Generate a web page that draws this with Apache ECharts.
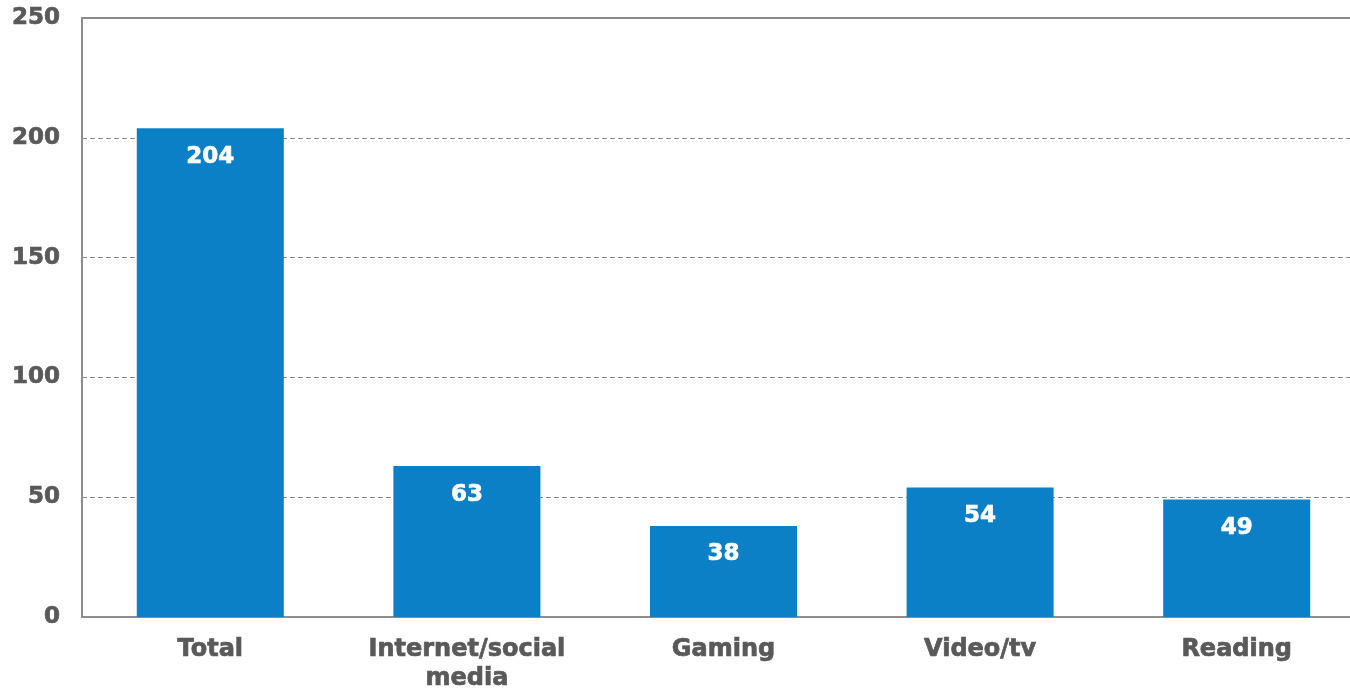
<!DOCTYPE html>
<html>
<head>
<meta charset="utf-8">
<style>
  html, body { margin: 0; padding: 0; background: #ffffff; overflow: hidden; }
  #chart { width: 1350px; height: 688px; }
</style>
<script src="https://cdn.jsdelivr.net/npm/echarts@6/dist/echarts.min.js"></script>
</head>
<body>
<div id="chart"></div>
<script>
// Categories and values shown as bars
const categories = ['Total', 'Internet/social\nmedia', 'Gaming', 'Video/tv', 'Reading'];
const values = [204, 63, 38, 54, 49];
// Value axis range and step
const yMin = 0;
const yMax = 250;
const yStep = 50;

const FONT = '"DejaVu Sans", Verdana, sans-serif';
const TEXT = '#595959';
const LINE = '#8c8c8c';
const BAR = '#0c80c6';

const chart = echarts.init(document.getElementById('chart'), null, { renderer: 'canvas' });

chart.setOption({
  animation: false,
  backgroundColor: '#ffffff',
  grid: {
    left: 82, right: -15, top: 18, bottom: 71,
    containLabel: false,
    outerBoundsMode: 'none'
  },
  xAxis: [
    {
      type: 'category',
      data: categories,
      position: 'bottom',
      axisLine: { show: true, lineStyle: { color: LINE, width: 2 } },
      axisTick: { show: false },
      axisLabel: {
        color: TEXT, fontFamily: FONT, fontWeight: 'bold', fontSize: 24,
        margin: 18, lineHeight: 29,
        textBorderColor: TEXT, textBorderWidth: 0.7
      }
    },
    {
      // plain top border of the plot area
      type: 'category',
      data: categories,
      position: 'top',
      axisLine: { show: true, lineStyle: { color: LINE, width: 2 } },
      axisTick: { show: false },
      axisLabel: { show: false }
    }
  ],
  yAxis: {
    type: 'value',
    min: yMin, max: yMax, interval: yStep,
    axisLine: { show: true, lineStyle: { color: LINE, width: 2 } },
    axisTick: { show: false },
    axisLabel: {
      color: TEXT, fontFamily: FONT, fontWeight: 'bold', fontSize: 23, margin: 22,
      padding: [4, 0, 0, 0],
      textBorderColor: TEXT, textBorderWidth: 0.7
    },
    splitLine: { show: true, lineStyle: { color: LINE, type: [5, 3], width: 1 } }
  },
  series: [{
    type: 'bar',
    data: values,
    barWidth: '57.3%',
    itemStyle: { color: BAR },
    label: {
      show: true,
      position: 'insideTop',
      distance: 17,
      color: '#ffffff',
      fontFamily: FONT, fontWeight: 'bold', fontSize: 23,
      textBorderColor: '#ffffff', textBorderWidth: 0.7
    }
  }]
});
</script>
</body>
</html>
